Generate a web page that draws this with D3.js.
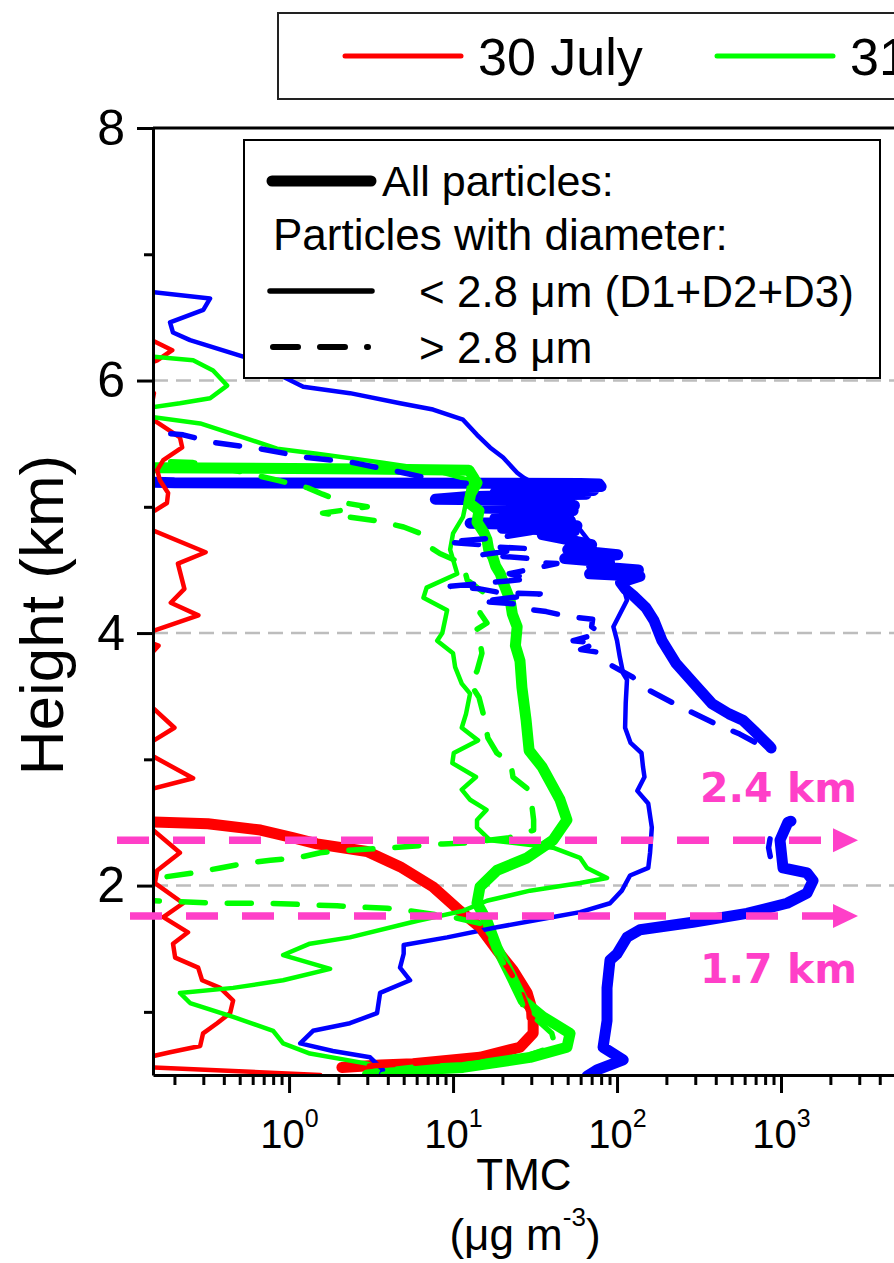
<!DOCTYPE html>
<html>
<head>
<meta charset="utf-8">
<script src="https://cdn.jsdelivr.net/npm/d3@7"></script>
<style>
  body { margin: 0; background: #fff; }
  svg { display: block; font-family: "Liberation Sans", Arial, sans-serif; }
</style>
</head>
<body>
<script>
// ---- data : [height (km), TMC (ug m-3)] ----
// red = 30 July, green = 31 July, blue = third day (legend cut off)
var july30All = [[2.51, 0.1], [2.49, 0.32], [2.44, 0.67], [2.38, 1.05], [2.33, 1.48], [2.27, 2.99], [2.15, 4.75],
  [1.99, 7.55], [1.80, 11.0], [1.67, 14.6], [1.49, 18.5], [1.33, 23.2], [1.15, 28.3], [0.99, 30.8], [0.83, 30.8],
  [0.72, 25.6], [0.64, 14.6], [0.59, 5.7], [0.58, 3.6], [0.56, 2.1]];

var july30Fine = [[6.33, 0.14], [6.24, 0.194], [6.16, 0.157], [6.10, 0.12], [5.95, 0.12], [5.90, 0.15], [5.80, 0.145],
  [5.75, 0.12], [5.69, 0.148], [5.55, 0.216], [5.47, 0.223], [5.37, 0.171], [5.29, 0.157], [5.21, 0.163], [5.11, 0.183],
  [5.03, 0.18], [4.97, 0.152], [4.90, 0.12], [4.83, 0.12], [4.81, 0.15], [4.64, 0.31], [4.55, 0.21], [4.35, 0.23],
  [4.24, 0.19], [4.14, 0.28], [4.02, 0.15], [3.96, 0.12], [3.90, 0.16], [3.86, 0.15], [3.80, 0.1], [3.45, 0.1],
  [3.40, 0.15], [3.25, 0.2], [3.15, 0.15], [3.08, 0.12], [3.02, 0.15], [2.85, 0.26], [2.77, 0.15], [2.70, 0.1],
  [2.50, 0.1], [2.44, 0.148], [2.26, 0.216], [2.12, 0.157], [2.02, 0.152], [1.86, 0.226], [1.75, 0.171], [1.63, 0.242],
  [1.54, 0.196], [1.43, 0.202], [1.35, 0.279], [1.25, 0.295], [1.19, 0.38], [1.09, 0.456], [0.99, 0.437], [0.91, 0.364],
  [0.83, 0.299], [0.73, 0.287], [0.68, 0.188], [0.65, 0.148], [0.60, 0.1], [0.57, 0.1], [0.56, 0.148], [0.50, 1.55]];

var july30Coarse = [[2.51, 0.1], [2.48, 0.3], [2.44, 0.62], [2.33, 1.4], [2.27, 2.8], [2.15, 4.5], [1.99, 7.2],
  [1.80, 10.6], [1.67, 14.0], [1.51, 17.5], [1.35, 21.5], [1.19, 25.5], [1.00, 29.0], [0.83, 29.5], [0.72, 24.5],
  [0.64, 14.0], [0.59, 5.5], [0.56, 2.1]];

var july31All = [[5.31, 0.1], [5.30, 3.0], [5.29, 12.5], [5.22, 13.5], [5.19, 14.0], [5.10, 12.8], [5.03, 12.5],
  [4.97, 14.4], [4.88, 14.0], [4.79, 15.5], [4.74, 16.1], [4.66, 16.5], [4.60, 17.5], [4.53, 18.2], [4.47, 19.4],
  [4.38, 20.5], [4.26, 22.3], [4.15, 23.0], [4.05, 24.6], [3.90, 24.0], [3.78, 25.6], [3.57, 26.3], [3.31, 27.9],
  [3.07, 29.1], [2.94, 34.9], [2.80, 40], [2.68, 44.9], [2.52, 49.5], [2.36, 40.7], [2.22, 28.3], [2.12, 18.5],
  [1.99, 14.6], [1.86, 14.0], [1.72, 16.1], [1.51, 18.5], [1.30, 22.3], [1.09, 26.7], [0.96, 35.4], [0.83, 51.7],
  [0.72, 49.5], [0.64, 29.5], [0.56, 11.5], [0.54, 5.7], [0.51, 3.6], [0.50, 3.0]];

var july31Fine = [[6.19, 0.148], [6.16, 0.26], [6.08, 0.344], [5.96, 0.419], [5.86, 0.33], [5.82, 0.216], [5.79, 0.148],
  [5.75, 0.12], [5.71, 0.148], [5.66, 0.287], [5.55, 0.525], [5.46, 0.845], [5.42, 1.48], [5.35, 3.74], [5.29, 7.55],
  [5.21, 12.7], [5.08, 12.2], [4.92, 11.5], [4.79, 10.0], [4.66, 9.6], [4.47, 10.6], [4.36, 6.9], [4.28, 6.6],
  [4.18, 9.2], [4.00, 8.6], [3.94, 8.0], [3.84, 10.0], [3.73, 10.3], [3.60, 11.3], [3.52, 12.7], [3.36, 12.0],
  [3.25, 11.3], [3.15, 14.2], [3.05, 10.1], [2.97, 9.9], [2.86, 13.8], [2.76, 11.3], [2.68, 12.7], [2.60, 16.0],
  [2.52, 14.0], [2.46, 14.0], [2.36, 16.8], [2.30, 40.7], [2.22, 59.5], [2.14, 65.6], [2.06, 86.9], [2.02, 59.5],
  [1.96, 29.5], [1.88, 16.1], [1.80, 11.5], [1.72, 6.0], [1.59, 2.35], [1.54, 1.34], [1.45, 0.92], [1.34, 1.78],
  [1.25, 0.92], [1.19, 0.456], [1.15, 0.216], [1.07, 0.249], [0.96, 0.456], [0.85, 0.80], [0.75, 0.92], [0.67, 1.34],
  [0.59, 2.99], [0.54, 3.74], [0.50, 4.2]];

var july31Coarse = [[5.40, 0.1], [5.36, 0.17], [5.35, 0.26], [5.28, 0.5], [5.21, 0.85], [5.15, 1.3], [5.10, 1.6],
  [5.03, 2.2], [5.00, 3.0], [4.95, 1.6], [4.92, 2.3], [4.89, 3.4], [4.84, 5.0], [4.79, 6.3], [4.68, 7.25], [4.63, 8.3],
  [4.55, 11.5], [4.42, 12.2], [4.32, 15.4], [4.16, 14.6], [4.08, 16.1], [4.02, 13.6], [3.93, 14.6], [3.84, 15.0],
  [3.70, 14.0], [3.60, 12.7], [3.49, 14.4], [3.33, 15.5], [3.17, 16.3], [3.05, 18.5], [2.97, 22.5], [2.86, 23.2],
  [2.75, 29.5], [2.52, 31.0], [2.44, 31.0], [2.38, 22.0], [2.34, 12.7], [2.33, 8.7], [2.30, 4.3], [2.28, 2.26],
  [2.26, 1.55], [2.22, 1.12], [2.20, 0.77], [2.18, 0.555], [2.14, 0.38], [2.10, 0.26], [2.06, 0.157], [2.04, 0.1],
  [1.92, 0.1], [1.88, 0.148], [1.86, 0.38], [1.86, 0.735], [1.84, 1.96], [1.83, 2.71], [1.82, 3.96], [1.80, 5.47],
  [1.75, 10.0], [1.70, 14.6], [1.60, 16.5], [1.51, 18.0], [1.35, 21.0], [1.19, 24.5], [1.03, 27.0], [0.93, 33.0],
  [0.83, 40.0], [0.73, 42.0], [0.65, 28.0], [0.59, 14.0], [0.54, 6.0], [0.50, 3.5]];

var day3All = [[5.20, 0.1], [5.19, 0.2], [5.185, 60], [5.18, 78], [5.16, 80], [5.15, 30], [5.13, 72], [5.11, 18],
  [5.10, 65], [5.08, 12], [5.06, 7.8], [5.05, 50], [5.03, 20], [5.01, 55], [4.99, 15], [4.97, 54], [4.95, 25],
  [4.93, 50], [4.91, 18], [4.89, 52], [4.87, 12.7], [4.85, 57], [4.83, 20], [4.81, 55], [4.78, 35], [4.74, 50],
  [4.70, 70], [4.66, 50], [4.62, 101], [4.59, 48], [4.56, 90], [4.53, 70], [4.50, 135], [4.47, 68], [4.45, 138],
  [4.40, 105], [4.35, 112], [4.30, 125], [4.20, 150], [4.10, 168], [3.94, 188], [3.76, 229], [3.60, 295], [3.44, 380],
  [3.36, 482], [3.31, 586], [3.21, 704], [3.10, 857], [3.09, 870], [2.80, null], [2.51, 1150], [2.50, 1100],
  [2.36, 986], [2.14, 1028], [2.10, 1441], [2.04, 1567], [1.94, 1441], [1.86, 1089], [1.78, 620], [1.71, 290],
  [1.65, 138], [1.59, 115], [1.46, 100], [1.41, 90.6], [1.19, 86.9], [0.93, 86.9], [0.72, 82.2], [0.62, 109],
  [0.54, 75.5], [0.49, 65.6]];

var day3Fine = [[6.70, 0.148], [6.65, 0.33], [6.56, 0.30], [6.46, 0.188], [6.38, 0.196], [6.32, 0.249], [6.19, 0.525],
  [6.03, 0.92], [5.95, 1.22], [5.90, 2.35], [5.82, 4.75], [5.77, 7.55], [5.69, 11.5], [5.57, 14.0], [5.47, 16.8],
  [5.39, 20.2], [5.27, 24.6], [5.23, 27.0], [5.15, 35], [5.00, 50], [4.89, 54], [4.70, 70], [4.50, 95], [4.35, 110],
  [4.26, 115], [4.05, 95], [3.94, 100], [3.81, 104], [3.68, 109], [3.63, 115], [3.45, 113], [3.25, 112], [3.13, 121],
  [3.05, 141], [2.94, 144], [2.86, 147], [2.75, 133], [2.65, 155], [2.46, 163], [2.26, 159], [2.14, 155], [2.08, 120],
  [1.96, 107], [1.86, 90.6], [1.79, 59.5], [1.75, 40], [1.67, 18.5], [1.59, 9.2], [1.53, 5.0], [1.46, 5.0],
  [1.35, 4.75], [1.25, 5.47], [1.15, 3.59], [0.99, 3.44], [0.91, 2.35], [0.85, 1.40], [0.75, 1.17], [0.69, 1.85],
  [0.64, 3.12], [0.54, 3.74], [0.49, 3.59]];

var day3Coarse = [[5.62, 0.1], [5.59, 0.148], [5.57, 0.226], [5.51, 0.344], [5.46, 0.665], [5.39, 1.29], [5.35, 2.46],
  [5.27, 4.96], [5.21, 8.0], [5.19, 11], [5.15, 25], [5.10, 45], [5.05, 20], [5.00, 50], [4.92, 30], [4.85, 55],
  [4.76, 20], [4.72, 9.2], [4.70, 14.6], [4.68, 19], [4.67, 28], [4.62, 15], [4.59, 29.5], [4.56, 30], [4.55, 43],
  [4.47, 22], [4.43, 29.5], [4.37, 9.6], [4.35, 14.6], [4.32, 19.4], [4.31, 34], [4.25, 14.6], [4.23, 24.6],
  [4.19, 28], [4.17, 37], [4.13, 51], [4.11, 71], [4.05, 70], [4.00, 79], [3.94, 54], [3.92, 75], [3.87, 60],
  [3.85, 75], [3.77, 85], [3.65, 125], [3.56, 150], [3.42, 240], [3.28, 400], [3.20, 560], [3.10, 780], [3.08, 800],
  [2.90, null], [2.37, 857], [2.30, 840], [2.23, 860]];

// axes / annotations
var yMajorTicks = [2, 4, 6, 8];
var yMinorTicks = [1, 3, 5, 7];
var gridHeights = [2, 4, 6];
var xMajorTicks = [1, 10, 100, 1000, 10000];
var xMinorSteps = [2, 3, 4, 5, 6, 7, 8, 9];
var dayLabels = ["30 July", "31 July"];
var markerHeights = [2.36, 1.76];
var markerLabels = ["2.4 km", "1.7 km"];

var RED = "#ff0000", GREEN = "#00ff00", BLUE = "#0000ff", PINK = "#ff3fc8";

// ---- layout ----
var width = 894, height = 1263;
var plot = {left: 153, top: 128, right: 945, bottom: 1075};

var x = d3.scaleLog().domain([0.148, 10000]).range([plot.left, plot.right]);
var y = d3.scaleLinear().domain([0.5, 8]).range([plot.bottom, plot.top]);

var svg = d3.select("body").append("svg")
    .attr("width", width)
    .attr("height", height);

svg.append("defs").append("clipPath")
    .attr("id", "plotclip")
    .append("rect")
    .attr("x", plot.left + 1)
    .attr("y", plot.top)
    .attr("width", plot.right - plot.left)
    .attr("height", plot.bottom - plot.top);

// dashed grey grid lines
svg.append("g").selectAll("line")
    .data(gridHeights)
    .enter().append("line")
    .attr("x1", plot.left).attr("x2", plot.right)
    .attr("y1", function(d) { return y(d); })
    .attr("y2", function(d) { return y(d); })
    .attr("stroke", "#bdbdbd")
    .attr("stroke-width", 2.5)
    .attr("stroke-dasharray", "15,8");

// ---- profiles ----
var line = d3.line()
    .defined(function(d) { return d[1] != null; })
    .x(function(d) { return x(d[1]); })
    .y(function(d) { return y(d[0]); });

var series = [
  {data: day3All, color: BLUE, w: 11, dash: null},
  {data: july30All, color: RED, w: 11, dash: null},
  {data: july31All, color: GREEN, w: 11, dash: null},
  {data: july30Fine, color: RED, w: 4.5, dash: null},
  {data: july31Fine, color: GREEN, w: 4.5, dash: null},
  {data: day3Fine, color: BLUE, w: 4.5, dash: null},
  {data: july30Coarse, color: RED, w: 5.5, dash: "24,22"},
  {data: july31Coarse, color: GREEN, w: 5.5, dash: "24,22"},
  {data: day3Coarse, color: BLUE, w: 5.5, dash: "24,22"}
];

var curves = svg.append("g").attr("clip-path", "url(#plotclip)");
series.forEach(function(s) {
    curves.append("path")
        .datum(s.data)
        .attr("d", line)
        .attr("fill", "none")
        .attr("stroke", s.color)
        .attr("stroke-width", s.w)
        .attr("stroke-linejoin", "round")
        .attr("stroke-linecap", "round")
        .attr("stroke-dasharray", s.dash);
});

// ---- axes ----
var yAxis = svg.append("g")
    .attr("transform", "translate(" + plot.left + ",0)")
    .call(d3.axisLeft(y).tickValues(yMajorTicks).tickSize(16).tickSizeOuter(0).tickPadding(12));
svg.append("g")
    .attr("transform", "translate(" + plot.left + ",0)")
    .call(d3.axisLeft(y).tickValues(yMinorTicks).tickSize(9).tickSizeOuter(0).tickFormat(""))
    .select(".domain").remove();

var xMinor = [];
xMajorTicks.slice(0, -1).forEach(function(dec) {
    xMinorSteps.forEach(function(m) { xMinor.push(dec * m); });
});
xMinorSteps.forEach(function(m) { xMinor.push(m / 10); });
xMinor = xMinor.filter(function(v) { return v >= 0.148; });

var xAxis = svg.append("g")
    .attr("transform", "translate(0," + plot.bottom + ")")
    .call(d3.axisBottom(x).tickValues(xMajorTicks).tickSize(18).tickSizeOuter(0).tickFormat(""));
svg.append("g")
    .attr("transform", "translate(0," + plot.bottom + ")")
    .call(d3.axisBottom(x).tickValues(xMinor).tickSize(10).tickSizeOuter(0).tickFormat(""))
    .select(".domain").remove();

svg.selectAll(".tick line").attr("stroke", "#000").attr("stroke-width", 3);
svg.selectAll(".domain").attr("stroke", "#000").attr("stroke-width", 3);
yAxis.selectAll("text").attr("font-size", 50).attr("fill", "#000")
    .attr("font-family", "'Liberation Sans', Arial, sans-serif");

// 10^n labels (the 10^4 one lies outside the visible area)
xAxis.selectAll(".tick text").each(function(d) {
    var t = d3.select(this);
    if (d >= 10000) { t.remove(); return; }
    t.attr("y", 73).attr("dy", null)
        .attr("font-size", 40).attr("fill", "#000")
        .attr("font-family", "'Liberation Sans', Arial, sans-serif")
        .attr("text-anchor", "middle");
    t.append("tspan").text("10");
    t.append("tspan").attr("font-size", 25).attr("dy", -21).text(Math.round(Math.log10(d)));
});

// top frame
svg.append("line")
    .attr("x1", plot.left).attr("x2", plot.right)
    .attr("y1", plot.top).attr("y2", plot.top)
    .attr("stroke", "#000").attr("stroke-width", 3);

// axis titles
svg.append("text")
    .attr("transform", "translate(63,615) rotate(-90)")
    .attr("text-anchor", "middle")
    .attr("font-size", 62)
    .text("Height (km)");

svg.append("text")
    .attr("x", 524).attr("y", 1190)
    .attr("text-anchor", "middle")
    .attr("font-size", 44)
    .text("TMC");

var unit = svg.append("text")
    .attr("x", 525).attr("y", 1250)
    .attr("text-anchor", "middle")
    .attr("font-size", 44);
unit.append("tspan").text("(\u03bcg m");
unit.append("tspan").attr("font-size", 26).attr("dy", -24).text("-3");
unit.append("tspan").attr("dy", 24).text(")");

// ---- height markers (pink arrows) ----
var markers = svg.append("g");
markerHeights.forEach(function(h, i) {
    var yy = y(h);
    markers.append("line")
        .attr("x1", i === 0 ? 117 : 130).attr("x2", 836)
        .attr("y1", yy).attr("y2", yy)
        .attr("stroke", PINK).attr("stroke-width", 7.5)
        .attr("stroke-dasharray", "32,24");
    markers.append("path")
        .attr("d", "M833," + (yy - 12) + "L858," + yy + "L833," + (yy + 12) + "Z")
        .attr("fill", PINK);
    markers.append("text")
        .attr("x", 700)
        .attr("y", i === 0 ? 802 : 983)
        .attr("font-family", "'DejaVu Sans', Verdana, sans-serif")
        .attr("font-weight", "bold")
        .attr("font-size", 41)
        .attr("fill", PINK)
        .text(markerLabels[i]);
});

// ---- inner legend (line styles) ----
var lg = svg.append("g");
lg.append("rect")
    .attr("x", 244).attr("y", 140).attr("width", 636).attr("height", 238)
    .attr("fill", "#fff").attr("stroke", "#000").attr("stroke-width", 2);
lg.append("line").attr("x1", 272).attr("x2", 371).attr("y1", 181).attr("y2", 181)
    .attr("stroke", "#000").attr("stroke-width", 11).attr("stroke-linecap", "round");
lg.append("text").attr("x", 382).attr("y", 196).attr("font-size", 43).text("All particles:");
lg.append("text").attr("x", 273).attr("y", 250).attr("font-size", 44).text("Particles with diameter:");
lg.append("line").attr("x1", 270).attr("x2", 372).attr("y1", 291).attr("y2", 291)
    .attr("stroke", "#000").attr("stroke-width", 5.5).attr("stroke-linecap", "round");
lg.append("text").attr("x", 419).attr("y", 307).attr("font-size", 44).text("< 2.8 \u03bcm (D1+D2+D3)");
lg.append("line").attr("x1", 273).attr("x2", 368).attr("y1", 347).attr("y2", 347)
    .attr("stroke", "#000").attr("stroke-width", 6).attr("stroke-linecap", "round")
    .attr("stroke-dasharray", "25,22");
lg.append("text").attr("x", 419).attr("y", 363).attr("font-size", 44).text("> 2.8 \u03bcm");

// ---- outer legend (days), cut by the right edge as in the figure ----
var dl = svg.append("g");
dl.append("rect")
    .attr("x", 278).attr("y", 13).attr("width", 700).attr("height", 86)
    .attr("fill", "#fff").attr("stroke", "#222").attr("stroke-width", 2);
[RED, GREEN].forEach(function(c, i) {
    var x0 = i === 0 ? 345 : 717;
    dl.append("line").attr("x1", x0).attr("x2", x0 + 116).attr("y1", 56).attr("y2", 56)
        .attr("stroke", c).attr("stroke-width", 5).attr("stroke-linecap", "round");
    dl.append("text").attr("x", x0 + 133).attr("y", 75).attr("font-size", 52).text(dayLabels[i]);
});
</script>
</body>
</html>
